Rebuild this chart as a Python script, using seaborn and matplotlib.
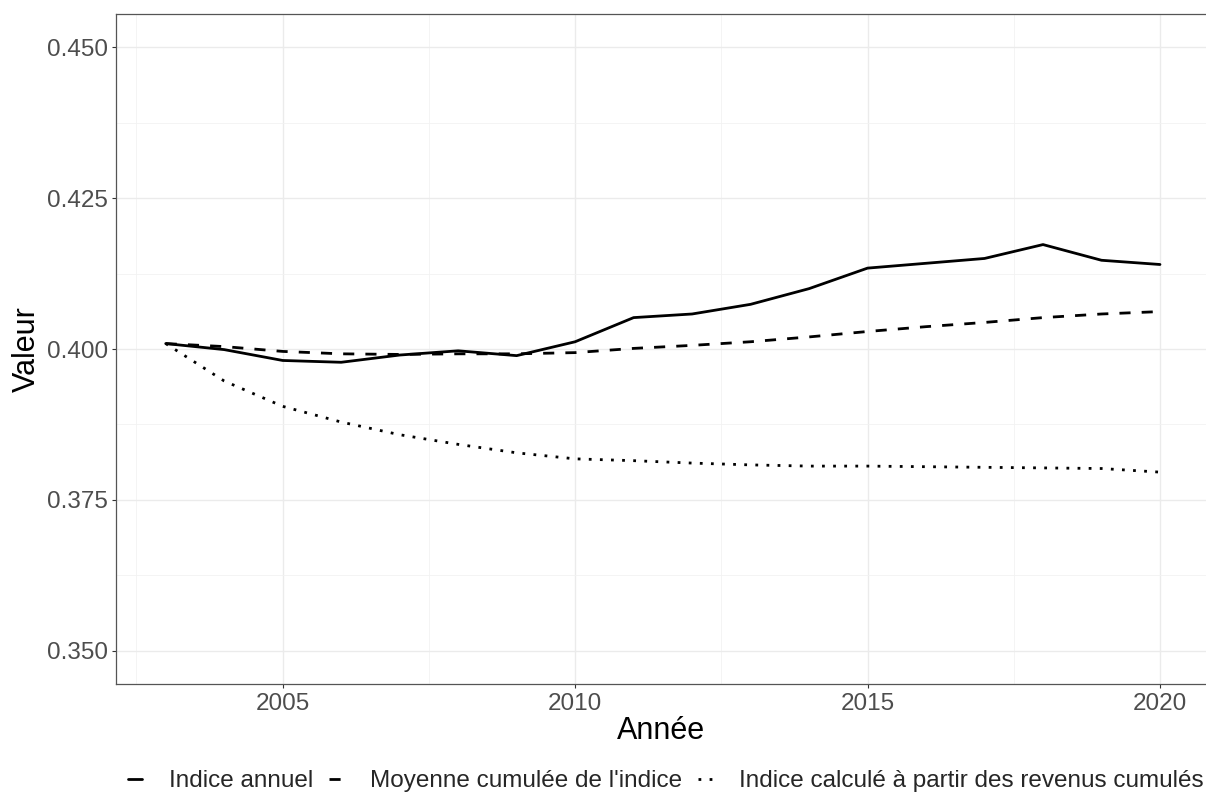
import matplotlib
matplotlib.use("Agg")
import matplotlib.pyplot as plt
from matplotlib.lines import Line2D
from matplotlib.ticker import MultipleLocator
import pandas as pd
import seaborn as sns

annees = list(range(2003, 2021))
indice_annuel = [0.4009, 0.3999, 0.3981, 0.3978, 0.3990, 0.3997, 0.3989, 0.4012, 0.4052,
                 0.4058, 0.4074, 0.4100, 0.4134, 0.4142, 0.4150, 0.4173, 0.4147, 0.4140]
moyenne_cumulee = [0.4009, 0.4004, 0.3996, 0.3992, 0.3991, 0.3992, 0.3992, 0.3994, 0.4001,
                   0.4006, 0.4012, 0.4020, 0.4029, 0.4037, 0.4044, 0.4052, 0.4058, 0.4062]
indice_revenus_cumules = [0.4009, 0.3947, 0.3905, 0.3879, 0.3858, 0.3842, 0.3828, 0.3818, 0.3815,
                          0.3811, 0.3808, 0.3806, 0.3806, 0.3805, 0.3804, 0.3803, 0.3802, 0.3796]

series = ["Indice annuel", "Moyenne cumulée de l'indice",
          "Indice calculé à partir des revenus cumulés"]

df = pd.DataFrame({"Année": annees * 3,
                   "Valeur": indice_annuel + moyenne_cumulee + indice_revenus_cumules,
                   "Série": [series[0]] * 18 + [series[1]] * 18 + [series[2]] * 18})

sns.set_theme(style="white")
plt.rcParams["font.family"] = ["Liberation Sans", "DejaVu Sans"]

W, H = 1206, 794
fig = plt.figure(figsize=(W / 100, H / 100), dpi=100)
ax = fig.add_axes([116 / W, 1 - 684 / H, (1209.7 - 116) / W, (684 - 14) / H])

styles = {series[0]: "", series[1]: (4, 4), series[2]: (1, 3)}
lw = 2.0

sns.lineplot(data=df, x="Année", y="Valeur", style="Série", style_order=series,
             dashes=styles, color="black", linewidth=lw, legend=False, ax=ax)

ax.set_xlim(2002.15, 2020.85)
ax.set_ylim(0.3445, 0.4555)
ax.xaxis.set_major_locator(MultipleLocator(5))
ax.xaxis.set_minor_locator(MultipleLocator(2.5))
ax.yaxis.set_major_locator(MultipleLocator(0.025))
ax.yaxis.set_minor_locator(MultipleLocator(0.0125))
ax.yaxis.set_major_formatter(matplotlib.ticker.FormatStrFormatter("%.3f"))

ax.grid(which="major", color="#EBEBEB", linewidth=1.0)
ax.grid(which="minor", color="#F2F2F2", linewidth=0.6)
ax.set_axisbelow(True)
for s in ax.spines.values():
    s.set_color("#555555")
    s.set_linewidth(0.9)

ax.tick_params(which="major", direction="out", length=2.9, width=0.8, color="#333333",
               labelcolor="#4D4D4D", labelsize=17.5, bottom=True, left=True)
ax.tick_params(axis="x", pad=3.6)
ax.tick_params(axis="y", pad=2.7)
ax.tick_params(which="minor", length=0)

ax.set_xlabel("")
ax.set_ylabel("")
fig.text(661 / W, 1 - 731 / H, "Année", ha="center", va="center", fontsize=22, color="black")
fig.text(27 / W, 1 - 349 / H, "Valeur", ha="center", va="center", rotation=90,
         fontsize=22, color="black")

handles = []
for name in series:
    h = Line2D([], [], color="black", linewidth=lw)
    if styles[name]:
        h.set_dashes(styles[name])
    handles.append(h)

fig.legend(handles, series, loc="center left", bbox_to_anchor=(128 / W, 1 - 781 / H),
           ncol=3, frameon=False, fontsize=17.5, borderpad=0, borderaxespad=0,
           handlelength=0.574, handletextpad=1.1, columnspacing=0.66)

fig.savefig("out.png", dpi=100)
